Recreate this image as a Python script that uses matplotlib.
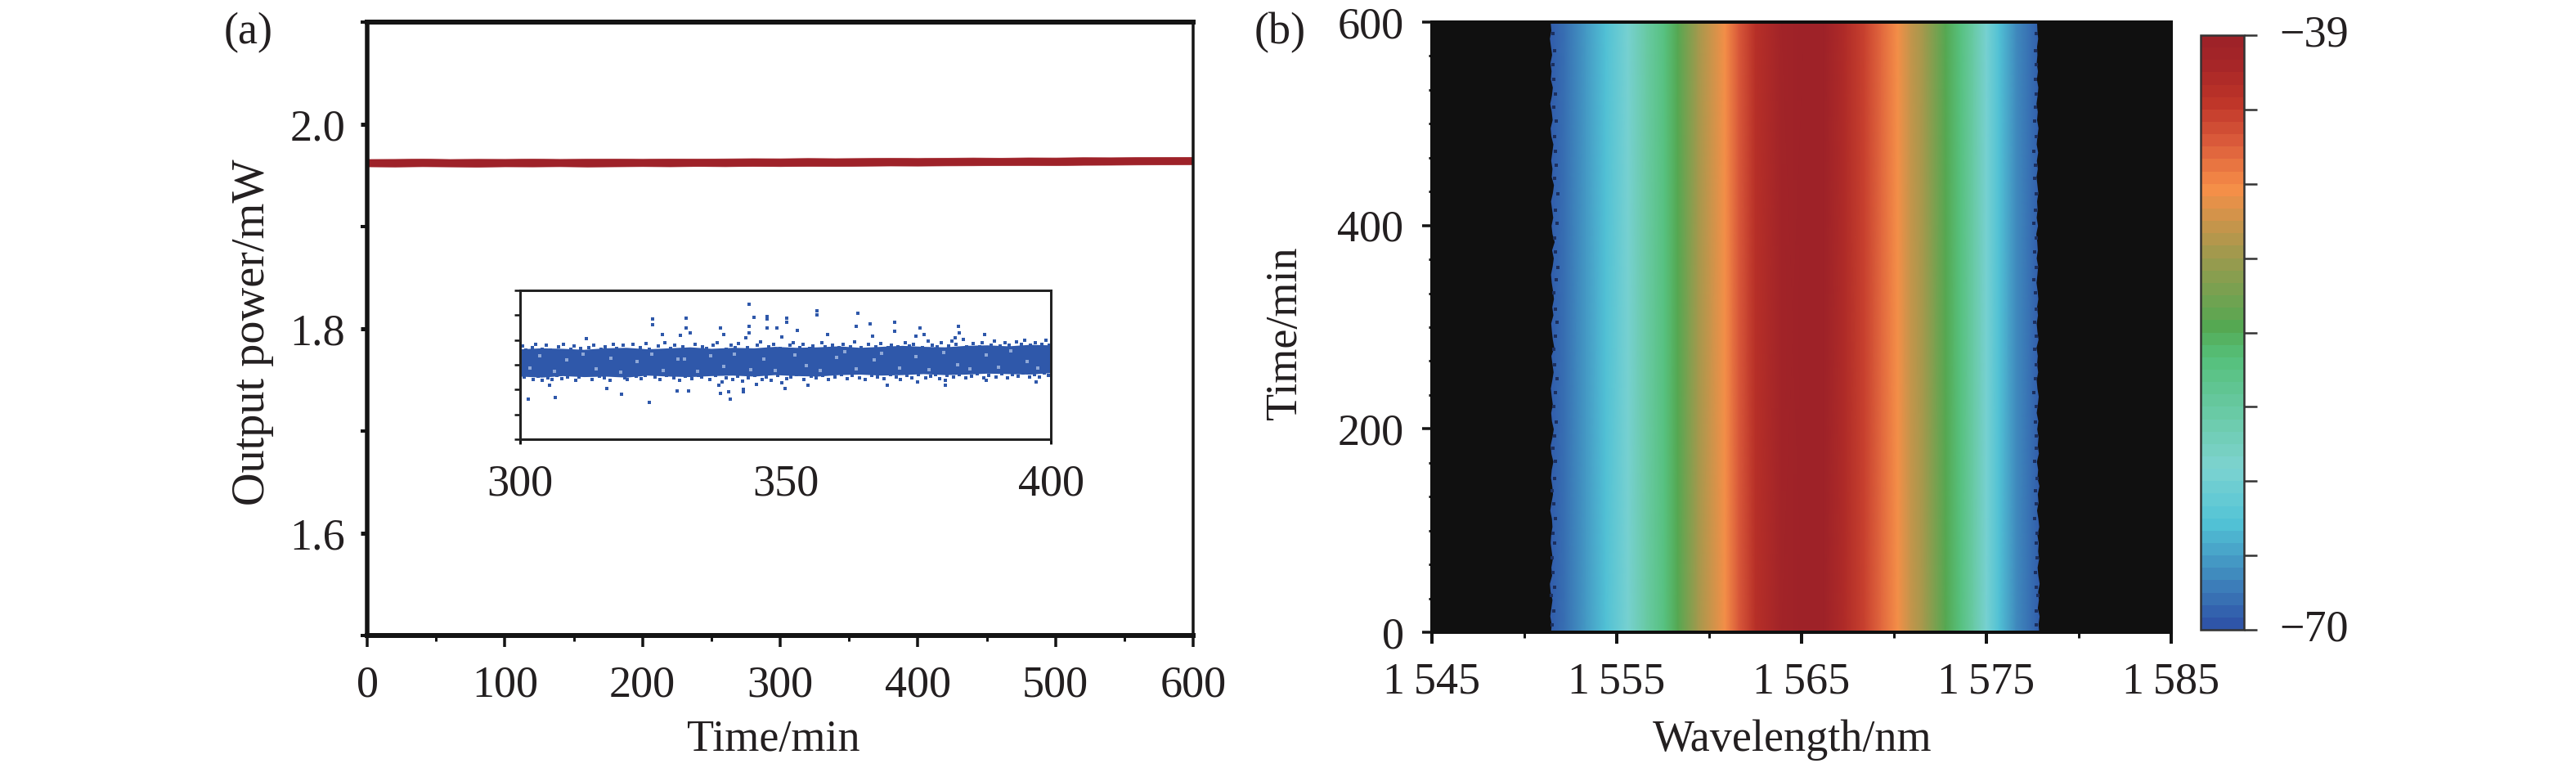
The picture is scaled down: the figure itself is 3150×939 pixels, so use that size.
import matplotlib
matplotlib.use('Agg')
import matplotlib.pyplot as plt
import numpy as np
from matplotlib.colors import LinearSegmentedColormap
from matplotlib.cm import ScalarMappable
from matplotlib.colors import Normalize

plt.rcParams['font.family'] = ['Liberation Serif', 'DejaVu Serif']
plt.rcParams['font.size'] = 39
plt.rcParams['text.color'] = '#231f20'
plt.rcParams['xtick.color'] = '#141414'
plt.rcParams['ytick.color'] = '#141414'
plt.rcParams['xtick.labelcolor'] = '#231f20'
plt.rcParams['ytick.labelcolor'] = '#231f20'

W, H = 3150, 939

# (a) long run, edges of the thick red trace, every 20 min
run_time = np.arange(0, 601, 20)
run_top = [1.9660, 1.9661, 1.9664, 1.9660, 1.9662, 1.9661, 1.9664, 1.9661, 1.9663, 1.9664,
           1.9662, 1.9665, 1.9664, 1.9666, 1.9668, 1.9667, 1.9670, 1.9668, 1.9670, 1.9672,
           1.9670, 1.9673, 1.9675, 1.9673, 1.9676, 1.9675, 1.9678, 1.9677, 1.9679, 1.9680, 1.9681]
run_bot = [1.9588, 1.9586, 1.9589, 1.9587, 1.9585, 1.9588, 1.9587, 1.9589, 1.9586, 1.9588,
           1.9590, 1.9588, 1.9591, 1.9589, 1.9592, 1.9590, 1.9593, 1.9592, 1.9594, 1.9596,
           1.9595, 1.9597, 1.9598, 1.9600, 1.9601, 1.9600, 1.9603, 1.9604, 1.9606, 1.9607, 1.9609]

# (a) inset, dense band limits every 4 min
band_top = [1.9682, 1.9684, 1.9683, 1.9681, 1.9684, 1.9685, 1.9682, 1.9684, 1.9686, 1.9683,
            1.9685, 1.9684, 1.9687, 1.9685, 1.9686, 1.9688, 1.9685, 1.9687, 1.9689, 1.9687,
            1.9686, 1.9689, 1.9690, 1.9688, 1.9691, 1.9690]
band_bot = [1.9627, 1.9625, 1.9628, 1.9626, 1.9627, 1.9625, 1.9629, 1.9627, 1.9626, 1.9628,
            1.9629, 1.9627, 1.9630, 1.9628, 1.9627, 1.9630, 1.9631, 1.9629, 1.9630, 1.9632,
            1.9630, 1.9631, 1.9633, 1.9632, 1.9631, 1.9634]
band_time = np.arange(300, 401, 4)

# (a) inset, points that stand clear of the band
stray_time = [343.2, 356.0, 356.0, 363.6, 325.0, 325.0, 331.3, 331.3, 346.5, 346.5, 350.3, 350.3,
              344.0, 343.2, 343.2, 342.6, 337.8, 338.4, 326.8, 330.2, 332.0, 346.5, 348.4, 352.3,
              349.3, 357.9, 363.3, 366.0, 370.6, 370.6, 375.3, 376.1, 382.6, 382.8, 381.9, 387.5,
              312.5, 366.4, 374.5, 301.5, 306.7, 324.4, 319.1, 329.6, 331.7, 339.6, 339.3, 342.0,
              342.0, 337.5, 337.8, 316.4, 305.5, 344.5, 349.3, 349.9, 354.2, 369.2, 374.9, 380.1,
              387.9, 397.2, 380.1]
stray_power = [1.9772, 1.9759, 1.9751, 1.9754, 1.9743, 1.9730, 1.9744, 1.9724, 1.9747, 1.9742, 1.9744, 1.9736,
               1.9745, 1.9727, 1.9714, 1.9704, 1.9724, 1.9711, 1.9711, 1.9709, 1.9715, 1.9724, 1.9725, 1.9720,
               1.9706, 1.9711, 1.9727, 1.9732, 1.9736, 1.9717, 1.9725, 1.9711, 1.9728, 1.9714, 1.9704, 1.9711,
               1.9703, 1.9707, 1.9707, 1.9580, 1.9584, 1.9574, 1.9591, 1.9597, 1.9598, 1.9580, 1.9596, 1.9595,
               1.9601, 1.9608, 1.9592, 1.9603, 1.9608, 1.9611, 1.9614, 1.9603, 1.9608, 1.9608, 1.9616, 1.9608,
               1.9618, 1.9616, 1.9618]

# (a) inset, loose points along the top of the band
fringe_top_time = [300.4, 301.1, 302.3, 302.9, 304.2, 305.0, 305.7, 307.3, 308.1, 309.6, 310.2, 311.4, 313.0, 313.9,
                   315.2, 316.0, 317.5, 318.2, 319.4, 320.7, 321.3, 322.6, 323.8, 324.3, 326.1, 327.2, 328.3, 329.1,
                   330.6, 331.9, 333.0, 334.4, 335.1, 336.3, 337.2, 338.9, 339.8, 340.6, 341.2, 342.9, 344.7, 345.3,
                   346.9, 347.8, 349.0, 350.8, 351.4, 352.7, 353.3, 354.6, 355.2, 356.8, 357.4, 358.9, 360.1, 360.9,
                   362.2, 363.0, 364.3, 365.6, 367.1, 367.9, 369.3, 370.0, 371.2, 372.5, 373.4, 374.1, 375.8, 376.9,
                   377.7, 378.6, 379.4, 380.8, 381.3, 382.1, 383.5, 384.2, 385.4, 386.6, 387.1, 388.7, 389.3, 390.5,
                   391.4, 392.2, 393.6, 394.4, 395.1, 396.2, 397.0, 398.3, 399.1, 399.7]
fringe_top_power = [1.9688, 1.9680, 1.9684, 1.9691, 1.9682, 1.9690, 1.9679, 1.9686, 1.9692, 1.9681, 1.9688, 1.9683,
                    1.9685, 1.9690, 1.9681, 1.9687, 1.9692, 1.9683, 1.9689, 1.9680, 1.9691, 1.9685, 1.9693, 1.9682,
                    1.9688, 1.9694, 1.9683, 1.9690, 1.9686, 1.9681, 1.9692, 1.9687, 1.9683, 1.9690, 1.9694, 1.9682,
                    1.9689, 1.9685, 1.9693, 1.9684, 1.9690, 1.9696, 1.9686, 1.9692, 1.9683, 1.9689, 1.9695, 1.9685,
                    1.9691, 1.9683, 1.9688, 1.9694, 1.9686, 1.9690, 1.9684, 1.9692, 1.9687, 1.9696, 1.9685, 1.9691,
                    1.9687, 1.9693, 1.9684, 1.9690, 1.9686, 1.9695, 1.9688, 1.9692, 1.9685, 1.9697, 1.9689, 1.9686,
                    1.9694, 1.9688, 1.9698, 1.9691, 1.9701, 1.9687, 1.9693, 1.9686, 1.9695, 1.9690, 1.9697, 1.9688,
                    1.9694, 1.9689, 1.9696, 1.9691, 1.9699, 1.9690, 1.9695, 1.9692, 1.9700, 1.9689]

# (a) inset, loose points along the foot of the band
fringe_bot_time = [300.7, 301.6, 302.5, 303.4, 304.1, 305.2, 306.0, 307.0, 307.8, 309.0, 310.5, 311.1, 312.3, 313.6,
                   314.9, 315.8, 316.9, 318.5, 319.7, 320.2, 321.9, 322.8, 323.5, 325.4, 326.4, 327.6, 328.9, 330.0,
                   331.1, 332.4, 333.6, 334.2, 335.7, 336.8, 338.0, 338.8, 340.1, 341.0, 341.9, 343.0, 344.2, 345.6,
                   346.4, 347.3, 348.5, 350.2, 351.0, 352.1, 353.5, 354.9, 355.8, 357.0, 358.1, 359.3, 360.6, 361.7,
                   362.6, 363.9, 365.0, 366.2, 367.4, 368.5, 369.8, 370.9, 371.7, 372.9, 373.8, 375.1, 376.4, 377.3,
                   378.2, 379.1, 380.4, 381.6, 382.7, 383.9, 385.0, 386.1, 387.4, 388.3, 389.7, 390.8, 391.9, 392.8,
                   393.9, 394.8, 396.0, 396.9, 397.8, 398.8, 399.5]
fringe_bot_power = [1.9625, 1.9630, 1.9621, 1.9627, 1.9618, 1.9624, 1.9620, 1.9628, 1.9622, 1.9626, 1.9619, 1.9625,
                    1.9629, 1.9621, 1.9627, 1.9623, 1.9619, 1.9628, 1.9624, 1.9620, 1.9627, 1.9622, 1.9629, 1.9625,
                    1.9621, 1.9628, 1.9624, 1.9619, 1.9627, 1.9622, 1.9629, 1.9625, 1.9621, 1.9628, 1.9616, 1.9624,
                    1.9620, 1.9627, 1.9617, 1.9623, 1.9629, 1.9621, 1.9626, 1.9619, 1.9628, 1.9622, 1.9625, 1.9630,
                    1.9620, 1.9627, 1.9623, 1.9629, 1.9621, 1.9626, 1.9630, 1.9622, 1.9628, 1.9624, 1.9620, 1.9629,
                    1.9625, 1.9622, 1.9630, 1.9626, 1.9621, 1.9628, 1.9624, 1.9631, 1.9623, 1.9627, 1.9630, 1.9622,
                    1.9628, 1.9625, 1.9631, 1.9623, 1.9627, 1.9632, 1.9624, 1.9629, 1.9626, 1.9632, 1.9623, 1.9630,
                    1.9627, 1.9633, 1.9625, 1.9630, 1.9626, 1.9633, 1.9628]

# (a) inset, small pale holes in the dense band
gap_time = [301.9, 303.7, 306.4, 308.8, 311.8, 314.3, 317.1, 319.0, 322.0, 324.8, 327.0, 329.7, 330.9, 333.4, 335.9,
            338.4, 340.4, 343.5, 345.9, 348.1, 351.7, 354.0, 356.5, 359.6, 361.2, 363.4, 366.7, 368.1, 371.5, 374.6,
            377.0, 379.8, 382.4, 384.7, 387.8, 390.1, 392.5, 395.5, 397.5]
gap_power = [1.9644, 1.9668, 1.9637, 1.9660, 1.9672, 1.9641, 1.9664, 1.9635, 1.9656, 1.9671, 1.9639, 1.9662,
             1.9662, 1.9636, 1.9668, 1.9646, 1.9672, 1.9640, 1.9662, 1.9638, 1.9669, 1.9648, 1.9639, 1.9665,
             1.9676, 1.9642, 1.9660, 1.9673, 1.9643, 1.9667, 1.9640, 1.9675, 1.9650, 1.9641, 1.9670, 1.9645,
             1.9678, 1.9656, 1.9643]

# (b) spectrum, same profile at all times
wavelength = [1551.1, 1552.2, 1553.3, 1554.4, 1555.6, 1556.6, 1557.6, 1558.3, 1559.4, 1560.85, 1561.6, 1562.5,
              1563.9, 1565.1, 1566.2, 1567.3, 1568.4, 1569.3, 1570.2, 1570.9, 1571.6, 1572.8, 1573.6, 1574.3,
              1575.0, 1575.7, 1576.6, 1578.1]
power_db = [-70, -68.2, -66.4, -64.6, -61.7, -58.8, -55.8, -54.2, -50.6, -46.8, -44.3, -42.2,
            -40.1, -39, -39.6, -41, -43.5, -45.2, -46.8, -48.8, -50.6, -54.2, -55.8, -58.6,
            -61.7, -64.6, -67.2, -70]
spectrum_time = [0, 600]

# (b) rough limits of the lit region, every 8 min
edge_time = np.arange(0, 601, 8)
edge_left = [1551.42, 1551.46, 1551.38, 1551.44, 1551.50, 1551.40, 1551.36, 1551.48, 1551.44, 1551.52,
             1551.46, 1551.40, 1551.43, 1551.50, 1551.47, 1551.38, 1551.45, 1551.53, 1551.49, 1551.42,
             1551.46, 1551.55, 1551.44, 1551.40, 1551.50, 1551.57, 1551.47, 1551.43, 1551.52, 1551.46,
             1551.41, 1551.49, 1551.56, 1551.50, 1551.44, 1551.60, 1551.52, 1551.47, 1551.43, 1551.55,
             1551.49, 1551.58, 1551.53, 1551.46, 1551.42, 1551.51, 1551.57, 1551.48, 1551.62, 1551.50,
             1551.45, 1551.54, 1551.48, 1551.42, 1551.52, 1551.58, 1551.46, 1551.50, 1551.43, 1551.49,
             1551.55, 1551.44, 1551.40, 1551.51, 1551.46, 1551.38, 1551.47, 1551.52, 1551.41, 1551.45,
             1551.39, 1551.48, 1551.42, 1551.36, 1551.44, 1551.40]
edge_right = [1577.84, 1577.80, 1577.86, 1577.76, 1577.82, 1577.78, 1577.86, 1577.79, 1577.75, 1577.83,
              1577.78, 1577.81, 1577.74, 1577.84, 1577.79, 1577.72, 1577.80, 1577.76, 1577.85, 1577.74,
              1577.78, 1577.71, 1577.82, 1577.76, 1577.80, 1577.73, 1577.79, 1577.70, 1577.76, 1577.81,
              1577.74, 1577.70, 1577.78, 1577.72, 1577.76, 1577.69, 1577.80, 1577.74, 1577.70, 1577.77,
              1577.72, 1577.79, 1577.75, 1577.69, 1577.74, 1577.78, 1577.70, 1577.76, 1577.73, 1577.68,
              1577.77, 1577.70, 1577.75, 1577.72, 1577.79, 1577.74, 1577.69, 1577.76, 1577.71, 1577.78,
              1577.70, 1577.74, 1577.80, 1577.72, 1577.76, 1577.69, 1577.75, 1577.79, 1577.71, 1577.77,
              1577.70, 1577.74, 1577.72, 1577.78, 1577.74, 1577.72]

# (b) dark flecks on the blue side of each edge
fleck_time = [7, 21, 36, 44, 59, 73, 88, 97, 112, 126, 139, 151, 168, 181, 193, 207, 222, 236, 249, 263, 278, 291,
              305, 318, 334, 347, 359, 374, 388, 402, 415, 431, 446, 459, 473, 487, 503, 516, 529, 544, 558, 572, 589]
fleck_left = [1551.52, 1551.60, 1551.48, 1551.65, 1551.56, 1551.50, 1551.62, 1551.54, 1551.68, 1551.58, 1551.52,
              1551.64, 1551.70, 1551.56, 1551.62, 1551.74, 1551.60, 1551.66, 1551.76, 1551.64, 1551.58, 1551.70,
              1551.78, 1551.66, 1551.60, 1551.72, 1551.82, 1551.68, 1551.62, 1551.76, 1551.70, 1551.80, 1551.64,
              1551.74, 1551.68, 1551.62, 1551.72, 1551.58, 1551.66, 1551.60, 1551.54, 1551.64, 1551.56]
fleck_right = [1577.72, 1577.68, 1577.78, 1577.70, 1577.64, 1577.74, 1577.68, 1577.76, 1577.62, 1577.70, 1577.66,
               1577.74, 1577.60, 1577.68, 1577.72, 1577.64, 1577.70, 1577.58, 1577.66, 1577.72, 1577.62, 1577.68,
               1577.60, 1577.70, 1577.64, 1577.58, 1577.68, 1577.62, 1577.70, 1577.56, 1577.64, 1577.68, 1577.60,
               1577.66, 1577.58, 1577.70, 1577.62, 1577.66, 1577.72, 1577.64, 1577.70, 1577.66, 1577.72]

# colour bar, position along the bar and colour
cmap_stops = [0, 0.174, 0.268, 0.457, 0.511, 0.626, 0.748, 0.829, 0.897, 0.964, 1]
cmap_colors = ['#2f55a8', '#52c3d6', '#7dd3d0', '#55c07a', '#55a852', '#9a9a4e',
               '#f78f48', '#d9593a', '#be3428', '#a42528', '#9e2228']
spec_cmap = LinearSegmentedColormap.from_list('spec', list(zip(cmap_stops, cmap_colors)), N=48)


def px_axes(fig, left, top, right, bottom):
    return fig.add_axes([left / W, 1 - bottom / H, (right - left) / W, (bottom - top) / H])


def px(n):
    return n * 72 / 100


fig = plt.figure(figsize=[W / 100, H / 100], dpi=100)

# panel a
ax = px_axes(fig, 449, 27, 1459, 777)
ax.fill_between(run_time, run_bot, run_top, color='#9e2229', lw=0.5, zorder=2)
ax.set_xlim(0, 600)
ax.set_ylim(1.5, 2.1)
ax.set_xticks(range(0, 601, 100))
ax.set_xticks(range(50, 600, 100), minor=True)
ax.set_yticks([1.6, 1.8, 2.0], ['1.6', '1.8', '2.0'])
ax.set_yticks([1.5, 1.7, 1.9, 2.1], minor=True)
ax.tick_params(axis='x', which='major', length=px(14), width=px(3.5), pad=px(22))
ax.tick_params(axis='x', which='minor', length=px(7), width=px(3))
ax.tick_params(axis='y', which='major', length=px(8), width=px(5), pad=px(19))
ax.tick_params(axis='y', which='minor', length=px(8), width=px(4))
for side, w in zip(['left', 'right', 'top', 'bottom'], [5.5, 3.5, 6, 6]):
    ax.spines[side].set_linewidth(px(w))
    ax.spines[side].set_color('#141414')

fig.text(946 / W, 1 - 905 / H, 'Time/min', ha='center', va='center')
fig.text(309 / W, 1 - 406 / H, 'Output power/mW', ha='center', va='center', rotation=90, fontsize=40.5)
fig.text(304 / W, 1 - 40 / H, '(a)', ha='center', va='center')
fig.text(1565 / W, 1 - 40 / H, '(b)', ha='center', va='center')

# inset
ins = px_axes(fig, 636, 355, 1285, 537)
ins.fill_between(band_time, band_bot, band_top, color='#2f58aa', lw=0)
ins.scatter(fringe_top_time, fringe_top_power, s=9, marker='s', color='#2f58aa', lw=0)
ins.scatter(fringe_bot_time, fringe_bot_power, s=9, marker='s', color='#2f58aa', lw=0)
ins.scatter(stray_time, stray_power, s=8, marker='s', color='#2f58aa', lw=0)
ins.scatter(gap_time, gap_power, s=5, marker='s', color='#8fa8d6', lw=0)
ins.set_xlim(300, 400)
ins.set_ylim(1.95, 1.98)
ins.set_xticks([300, 400])
ins.set_xticks([350], ['350'], minor=True)
ins.set_yticks([1.95, 1.955, 1.96, 1.965, 1.97, 1.975, 1.98], [''] * 7)
ins.tick_params(axis='x', which='major', length=px(6), width=px(3), pad=px(24))
ins.tick_params(axis='x', which='minor', length=px(2), width=px(2), pad=px(28))
ins.tick_params(axis='y', length=px(7), width=px(2.5))
for side in ins.spines:
    ins.spines[side].set_linewidth(px(3))
    ins.spines[side].set_color('#222222')

# panel b
bx = px_axes(fig, 1751, 27, 2655, 773)
bx.set_facecolor('#101010')
bx.pcolormesh(wavelength, spectrum_time, np.tile(power_db, (2, 1)), cmap=spec_cmap,
              vmin=-70, vmax=-39, shading='gouraud')
bx.fill_betweenx(edge_time, 1545, edge_left, color='#101010', lw=0)
bx.fill_betweenx(edge_time, edge_right, 1585, color='#101010', lw=0)
bx.scatter(fleck_left, fleck_time, s=5, marker='s', color='#1c2f5e', lw=0)
bx.scatter(fleck_right, fleck_time, s=5, marker='s', color='#1c2f5e', lw=0)
bx.set_xlim(1545, 1585)
bx.set_ylim(0, 600)
bx.set_xticks([1545, 1555, 1565, 1575, 1585],
              ['1\u2009545', '1\u2009555', '1\u2009565', '1\u2009575', '1\u2009585'])
bx.set_xticks([1550, 1560, 1570, 1580], minor=True)
bx.set_yticks([0, 200, 400, 600])
bx.set_yticks([100 / 3 * i for i in range(18) if i % 6 != 0], minor=True)
bx.tick_params(axis='x', which='major', length=px(14), width=px(4), pad=px(22))
bx.tick_params(axis='x', which='minor', length=px(7), width=px(3))
bx.tick_params(axis='y', which='major', length=px(12.5), width=px(3.5), pad=px(22))
bx.tick_params(axis='y', which='minor', length=px(4.5), width=px(3))
for side in bx.spines:
    bx.spines[side].set_linewidth(px(4))
    bx.spines[side].set_color('#101010')

fig.text(2192 / W, 1 - 905 / H, 'Wavelength/nm', ha='center', va='center')
fig.text(1572 / W, 1 - 407 / H, 'Time/min', ha='center', va='center', rotation=90)

# colour bar
cax = px_axes(fig, 2691, 43, 2744, 770)
cbar = fig.colorbar(ScalarMappable(norm=Normalize(-70, -39), cmap=spec_cmap), cax=cax)
cbar.set_ticks(np.linspace(-70, -39, 9))
cbar.set_ticklabels(['\u221270', '', '', '', '', '', '', '', '\u221239'])
cbar.ax.tick_params(length=px(16), width=px(2.5), pad=px(27), color='#333333')
for lab in cbar.ax.get_yticklabels():
    lab.set_va('center')
cbar.outline.set_linewidth(px(2.5))
cbar.outline.set_edgecolor('#333333')

plt.savefig('out.png', dpi=100)
plt.close()
